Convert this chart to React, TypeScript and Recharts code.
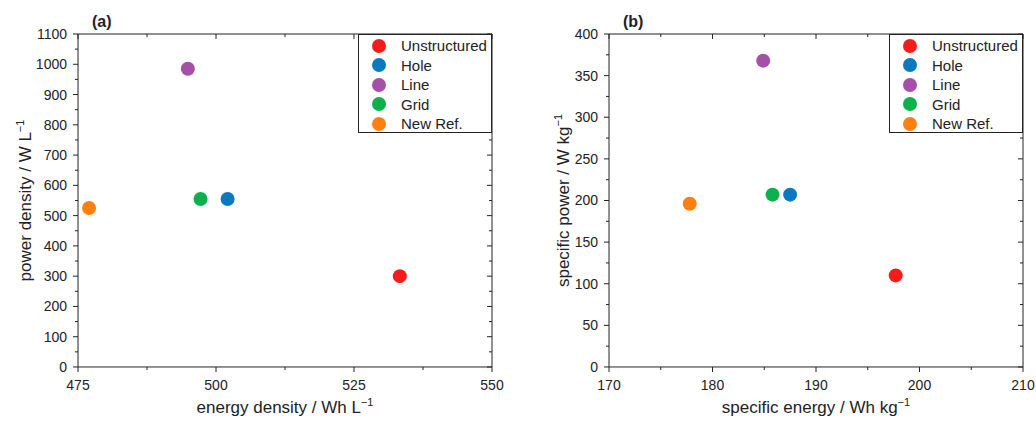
import { ScatterChart, Scatter, XAxis, YAxis, Legend, Label, ReferenceLine } from "recharts";

// series shared by both panels
const SERIES_NAMES = ["Unstructured", "Hole", "Line", "Grid", "New Ref."];
const SERIES_COLORS = ["#f71c1c", "#0a79c0", "#a64fa8", "#0cb14b", "#ff800e"];

// (a) volumetric values
const ENERGY_DENSITY = [533.3, 502.1, 494.9, 497.2, 477.0];
const POWER_DENSITY = [300, 555, 985, 555, 525];

// (b) gravimetric values
const SPECIFIC_ENERGY = [197.7, 187.5, 184.9, 185.8, 177.8];
const SPECIFIC_POWER = [110, 207, 368, 207, 196];

// tick marks
const A_X_TICKS = [475, 500, 525, 550];
const A_X_MINOR = [487.5, 512.5, 537.5];
const A_Y_TICKS = [0, 100, 200, 300, 400, 500, 600, 700, 800, 900, 1000, 1100];
const A_Y_MINOR = [50, 150, 250, 350, 450, 550, 650, 750, 850, 950, 1050];
const B_X_TICKS = [170, 180, 190, 200, 210];
const B_X_MINOR = [175, 185, 195, 205];
const B_Y_TICKS = [0, 50, 100, 150, 200, 250, 300, 350, 400];
const B_Y_MINOR = [25, 75, 125, 175, 225, 275, 325, 375];

const AXIS = "#222";
const W = 518;
const H = 423;
// axes get a near-zero size so they all sit on the plot frame (0 hides them)
const THIN = 0.01;
const MAJOR_LEN = 5;
const MINOR_LEN = 3;

type PanelProps = {
  xs: number[];
  ys: number[];
  xTicks: number[];
  xMinor: number[];
  yTicks: number[];
  yMinor: number[];
  xTitle: string;
  yTitle: string;
  letter: string;
  margin: { top: number; right: number; bottom: number; left: number };
  yTitleOffset: number;
  legendLeft: number;
};

function XTitle({ viewBox, text }: any) {
  const { x, y, width } = viewBox;
  return (
    <text x={x + width / 2} y={y + 46} textAnchor="middle" fontSize={17} fill={AXIS}>
      {text}
      <tspan dy={-7} fontSize={11}>−1</tspan>
    </text>
  );
}

function YTitle({ viewBox, text, offset }: any) {
  const { x, y, height } = viewBox;
  const cx = x + offset;
  const cy = y + height / 2;
  return (
    <text x={cx} y={cy} textAnchor="middle" fontSize={17} fill={AXIS} transform={`rotate(-90 ${cx} ${cy})`}>
      {text}
      <tspan dy={-7} fontSize={11}>−1</tspan>
    </text>
  );
}

function LegendBox() {
  return (
    <div style={{ paddingTop: 1 }}>
      {SERIES_NAMES.map((name, i) => (
        <div key={name} style={{ display: "flex", alignItems: "center", height: 19.5, fontSize: 15, color: AXIS }}>
          <svg width={14} height={14} style={{ marginLeft: 13, marginRight: 15 }}>
            <circle cx={7} cy={7} r={7} fill={SERIES_COLORS[i]} />
          </svg>
          <span>{name}</span>
        </div>
      ))}
    </div>
  );
}

// invisible marks so the minor-tick axes have data bound to them
const noShape = () => <g />;
// tick labels drawn as nothing (tick={false} would drop the tick lines too)
const noLabel = () => <g />;

function Panel(p: PanelProps) {
  const xMin = p.xTicks[0];
  const xMax = p.xTicks[p.xTicks.length - 1];
  const yMin = p.yTicks[0];
  const yMax = p.yTicks[p.yTicks.length - 1];
  const frame = { stroke: AXIS, strokeWidth: 1 };
  const points = p.xs.map((x, i) => ({ x, y: p.ys[i] }));

  // tick lengths in px turned into data units for the top / right frame ticks
  const plotW = W - p.margin.left - p.margin.right;
  const plotH = H - p.margin.top - p.margin.bottom;
  const dx = (px: number) => (px * (xMax - xMin)) / plotW;
  const dy = (px: number) => (px * (yMax - yMin)) / plotH;

  const topTicks = [
    ...p.xTicks.map((t) => ({ t, len: MAJOR_LEN })),
    ...p.xMinor.map((t) => ({ t, len: MINOR_LEN })),
  ];
  const rightTicks = [
    ...p.yTicks.map((t) => ({ t, len: MAJOR_LEN })),
    ...p.yMinor.map((t) => ({ t, len: MINOR_LEN })),
  ];

  return (
    <div style={{ position: "relative", width: W, height: H }}>
      <ScatterChart width={W} height={H} margin={p.margin}>
        <XAxis
          type="number"
          dataKey="x"
          domain={[xMin, xMax]}
          ticks={p.xTicks}
          interval={0}
          height={THIN}
          allowDataOverflow
          tickSize={MAJOR_LEN}
          tickMargin={8}
          tick={{ fontSize: 14, fill: AXIS }}
          axisLine={frame}
          tickLine={frame}
        >
          <Label content={(props: any) => <XTitle viewBox={props.viewBox} text={p.xTitle} />} />
        </XAxis>
        <XAxis xAxisId="bMinor" type="number" dataKey="x" domain={[xMin, xMax]} ticks={p.xMinor} interval={0} height={THIN}
          allowDataOverflow tickSize={MINOR_LEN} tick={noLabel} axisLine={false} tickLine={frame} />

        <YAxis
          type="number"
          dataKey="y"
          domain={[yMin, yMax]}
          ticks={p.yTicks}
          interval={0}
          width={THIN}
          allowDataOverflow
          tickSize={MAJOR_LEN}
          tickMargin={6}
          tick={{ fontSize: 14, fill: AXIS }}
          axisLine={frame}
          tickLine={frame}
        >
          <Label content={(props: any) => <YTitle viewBox={props.viewBox} text={p.yTitle} offset={p.yTitleOffset} />} />
        </YAxis>
        <YAxis yAxisId="lMinor" type="number" dataKey="y" domain={[yMin, yMax]} ticks={p.yMinor} interval={0} width={THIN}
          allowDataOverflow tickSize={MINOR_LEN} tick={noLabel} axisLine={false} tickLine={frame} />

        <Scatter data={points} xAxisId="bMinor" yAxisId="lMinor" shape={noShape} legendType="none" isAnimationActive={false} />

        {/* top and right edges of the frame, with inward ticks */}
        <ReferenceLine x={xMax} stroke={AXIS} strokeWidth={1} ifOverflow="visible" />
        <ReferenceLine y={yMax} stroke={AXIS} strokeWidth={1} ifOverflow="visible" />
        {topTicks.map(({ t, len }) => (
          <ReferenceLine
            key={`top-${t}`}
            segment={[{ x: t, y: yMax }, { x: t, y: yMax - dy(len) }]}
            stroke={AXIS}
            strokeWidth={1}
            ifOverflow="visible"
          />
        ))}
        {rightTicks.map(({ t, len }) => (
          <ReferenceLine
            key={`right-${t}`}
            segment={[{ x: xMax, y: t }, { x: xMax - dx(len), y: t }]}
            stroke={AXIS}
            strokeWidth={1}
            ifOverflow="visible"
          />
        ))}

        {SERIES_NAMES.map((name, i) => (
          <Scatter
            key={name}
            name={name}
            data={[{ x: p.xs[i], y: p.ys[i] }]}
            fill={SERIES_COLORS[i]}
            isAnimationActive={false}
            shape={(s: any) => <circle cx={s.cx} cy={s.cy} r={7} fill={SERIES_COLORS[i]} />}
          />
        ))}

        <Legend
          layout="vertical"
          align="center"
          verticalAlign="middle"
          content={() => <LegendBox />}
          wrapperStyle={{
            left: p.legendLeft,
            top: 34,
            width: 134,
            height: 99,
            border: `1px solid ${AXIS}`,
            background: "#fff",
            boxSizing: "border-box",
          }}
        />
      </ScatterChart>
      <div style={{ position: "absolute", left: p.margin.left + 14, top: 14, fontSize: 16, fontWeight: "bold", lineHeight: "16px", color: AXIS }}>
        {p.letter}
      </div>
    </div>
  );
}

export default function App() {
  return (
    <div
      style={{
        position: "absolute",
        left: 0,
        top: 0,
        width: 1036,
        height: 423,
        display: "flex",
        background: "#fff",
        fontFamily: '"Liberation Sans", Arial, sans-serif',
      }}
    >
      <Panel
        xs={ENERGY_DENSITY}
        ys={POWER_DENSITY}
        xTicks={A_X_TICKS}
        xMinor={A_X_MINOR}
        yTicks={A_Y_TICKS}
        yMinor={A_Y_MINOR}
        xTitle="energy density / Wh L"
        yTitle="power density / W L"
        letter="(a)"
        margin={{ top: 34, right: 26, bottom: 56, left: 78 }}
        yTitleOffset={-47}
        legendLeft={358}
      />
      <Panel
        xs={SPECIFIC_ENERGY}
        ys={SPECIFIC_POWER}
        xTicks={B_X_TICKS}
        xMinor={B_X_MINOR}
        yTicks={B_Y_TICKS}
        yMinor={B_Y_MINOR}
        xTitle="specific energy / Wh kg"
        yTitle="specific power / W kg"
        letter="(b)"
        margin={{ top: 34, right: 13, bottom: 56, left: 91 }}
        yTitleOffset={-40}
        legendLeft={371}
      />
    </div>
  );
}
